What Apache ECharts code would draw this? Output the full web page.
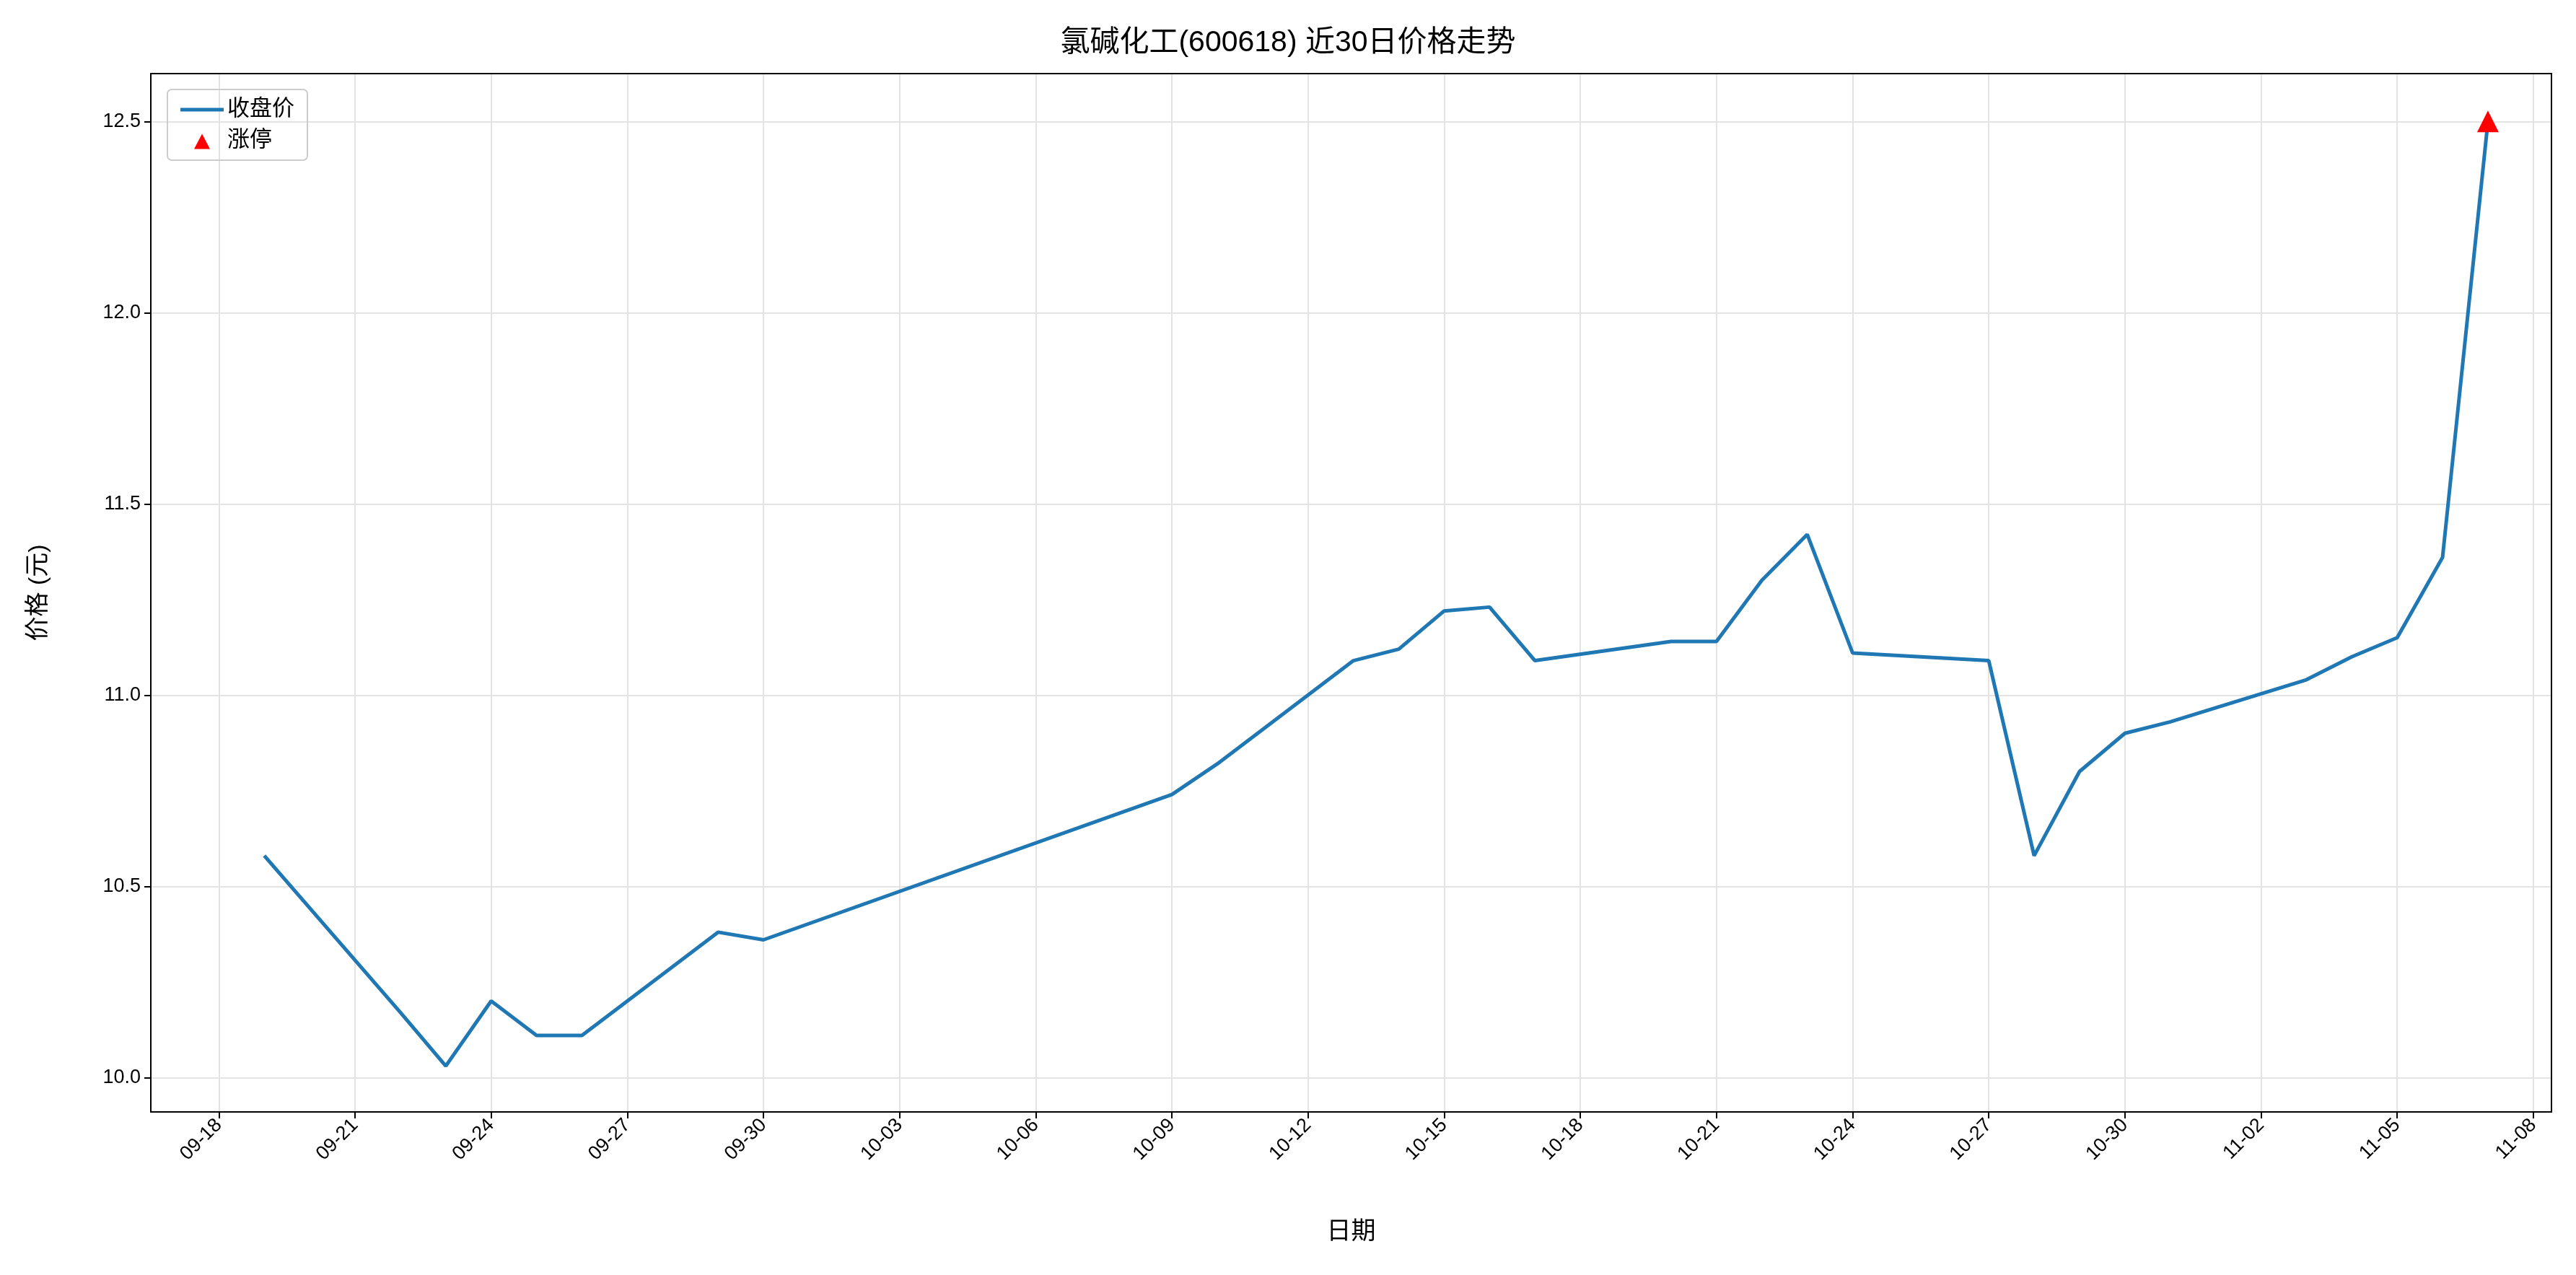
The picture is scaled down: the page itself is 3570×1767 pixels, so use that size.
<!DOCTYPE html>
<html><head><meta charset="utf-8">
<script src="https://cdn.jsdelivr.net/npm/echarts@6/dist/echarts.min.js"></script>
<style>html,body{margin:0;background:#fff}#c{width:3570px;height:1767px}</style>
</head><body><div id="c"></div>
<script>
const dates = ['09-19','09-22','09-23','09-24','09-25','09-26','09-29','09-30','10-09','10-10','10-13','10-14','10-15','10-16','10-17','10-20','10-21','10-22','10-23','10-24','10-27','10-28','10-29','10-30','10-31','11-03','11-04','11-05','11-06','11-07'];
const closes = [10.58,10.17,10.03,10.20,10.11,10.11,10.38,10.36,10.74,10.82,11.09,11.12,11.22,11.23,11.09,11.14,11.14,11.30,11.42,11.11,11.09,10.58,10.80,10.90,10.93,11.04,11.10,11.15,11.36,12.50];
const limitUpDates = ['11-07'];
const limitUpValues = [12.50];
const xTickLabels = ['09-18','09-21','09-24','09-27','09-30','10-03','10-06','10-09','10-12','10-15','10-18','10-21','10-24','10-27','10-30','11-02','11-05','11-08'];
const yTicks = [10.0,10.5,11.0,11.5,12.0,12.5];

const base = Date.UTC(2025,8,18);
const dayIdx = s => { const [m,d]=s.split('-').map(Number); return Math.round((Date.UTC(2025,m-1,d)-base)/86400000); };
const tickVals = xTickLabels.map(dayIdx);
const labelOf = {}; xTickLabels.forEach(s=>labelOf[dayIdx(s)]=s);
const font = 'Liberation Sans, Arial, Noto Sans CJK SC, sans-serif';
const anchors = 'M0,0 L0.01,0 L0.01,0.01 Z M60,26 L59.99,26 L59.99,25.99 Z ';
const frame = {lineStyle:{color:'#000',width:2}};
const chart = echarts.init(document.getElementById('c'));
chart.setOption({
  animation:false,
  title:{text:'氯碱化工(600618) 近30日价格走势',left:'center',top:34,textStyle:{fontFamily:font,fontSize:41,fontWeight:'normal',color:'#000'}},
  legend:{left:232,top:124,orient:'vertical',itemGap:12,borderColor:'#ccc',borderWidth:2,borderRadius:6,padding:[12,18],
    textStyle:{fontFamily:font,fontSize:31,color:'#000'},itemWidth:60,itemHeight:26,
    data:[{name:'收盘价',icon:'path://'+anchors+'M0,11 L60,11 L60,16 L0,16 Z'},
          {name:'涨停',icon:'path://'+anchors+'M19,25 L30,4 L41,25 Z',itemStyle:{color:'red'}}]},
  grid:{left:209,right:34,top:102,bottom:226},
  xAxis:[{type:'value',min:-1.5,max:51.4,name:'日期',nameLocation:'middle',nameGap:150,
    nameTextStyle:{fontFamily:font,fontSize:34,color:'#000'},
    axisLine:{onZero:false,lineStyle:{color:'#000',width:2}},
    axisTick:{customValues:tickVals,length:9,lineStyle:{color:'#000',width:2}},
    axisLabel:{customValues:tickVals,rotate:45,fontFamily:font,fontSize:27,color:'#000',margin:14,formatter:v=>labelOf[v]||''},
    splitLine:{show:true,lineStyle:{color:'#e3e3e3',width:2}}},
    {type:'value',position:'top',min:-1.5,max:51.4,axisLine:{onZero:false,...frame},axisTick:{show:false},axisLabel:{show:false},splitLine:{show:false}}],
  yAxis:[{type:'value',min:9.91,max:12.625,name:'价格 (元)',nameLocation:'middle',nameGap:138,nameRotate:90,
    nameTextStyle:{fontFamily:font,fontSize:34,color:'#000'},
    axisLine:{show:true,onZero:false,lineStyle:{color:'#000',width:2}},
    axisTick:{show:true,customValues:yTicks,length:9,lineStyle:{color:'#000',width:2}},
    axisLabel:{customValues:yTicks,fontFamily:font,fontSize:27,color:'#000',margin:14,formatter:v=>v.toFixed(1)},
    splitLine:{show:true,lineStyle:{color:'#e3e3e3',width:2}}},
    {type:'value',position:'right',min:9.91,max:12.625,axisLine:{show:true,onZero:false,...frame},axisTick:{show:false},axisLabel:{show:false},splitLine:{show:false}}],
  series:[
    {name:'收盘价',type:'line',data:dates.map((d,i)=>[dayIdx(d),closes[i]]),showSymbol:false,symbol:'none',
     lineStyle:{color:'#1f77b4',width:5},itemStyle:{color:'#1f77b4'}},
    {name:'涨停',type:'scatter',data:limitUpDates.map((d,i)=>[dayIdx(d),limitUpValues[i]]),symbol:'triangle',symbolSize:30,
     itemStyle:{color:'red',opacity:1},z:5}
  ]
});
</script></body></html>
